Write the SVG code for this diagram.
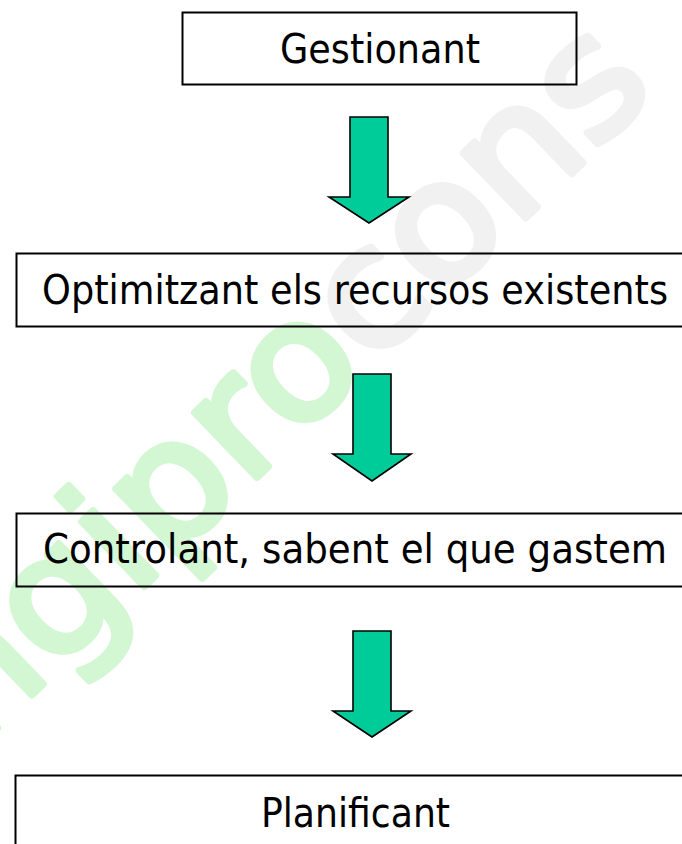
<svg xmlns="http://www.w3.org/2000/svg" width="682" height="844" viewBox="0 0 682 844">
<style>
.box{fill:none;stroke:#000;stroke-width:2}
.lbl{font-family:"DejaVu Sans","Verdana",sans-serif;font-size:41px;fill:#000}
.arr{fill:#00CC99;stroke:#000;stroke-width:1.6;stroke-linejoin:miter}
.wm{font-family:"DejaVu Sans",sans-serif;font-size:165px;stroke-width:7;stroke-linejoin:round}
</style>
<rect x="0" y="0" width="682" height="844" fill="#fff"/>
<g id="watermark" transform="translate(-25,750) rotate(-44)">
<text class="wm" x="0" y="0" textLength="950" lengthAdjust="spacingAndGlyphs"><tspan fill="#d3f6d3" stroke="#d3f6d3">ngipro</tspan><tspan fill="#f1f1f1" stroke="#f1f1f1">cons</tspan></text>
</g>
<g id="n1">
<rect class="box" x="182.5" y="12.5" width="394" height="72"/>
<text class="lbl" x="280" y="63" textLength="200" lengthAdjust="spacingAndGlyphs">Gestionant</text>
</g>
<g id="n2">
<rect class="box" x="16.5" y="253.5" width="700" height="73"/>
<text class="lbl" x="42" y="304" textLength="626" lengthAdjust="spacingAndGlyphs">Optimitzant els recursos existents</text>
</g>
<g id="n3">
<rect class="box" x="16.5" y="513.5" width="700" height="73"/>
<text class="lbl" x="43" y="563" textLength="624" lengthAdjust="spacingAndGlyphs">Controlant, sabent el que gastem</text>
</g>
<g id="n4">
<rect class="box" x="15.5" y="775.5" width="700" height="100"/>
<text class="lbl" x="261" y="827" textLength="189" lengthAdjust="spacingAndGlyphs">Planificant</text>
</g>
<g id="connectors">
<path class="arr" d="M350,117 H388 V197 H409 L369,223 L329,197 H350 Z"/>
<path class="arr" d="M353,374 H391 V454 H411 L372,481 L333,454 H353 Z"/>
<path class="arr" d="M353,631 H391 V711 H411 L372,737 L333,711 H353 Z"/>
</g>
</svg>
